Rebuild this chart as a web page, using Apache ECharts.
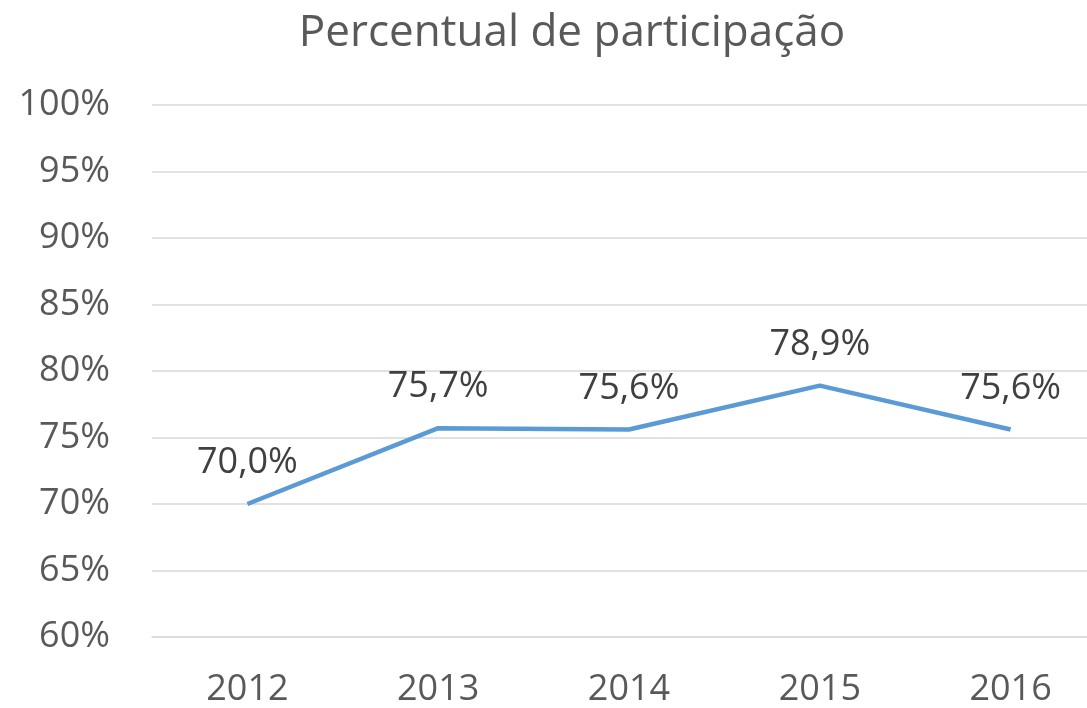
<!DOCTYPE html>
<html>
<head>
<meta charset="utf-8">
<script src="https://cdn.jsdelivr.net/npm/echarts@6/dist/echarts.min.js"></script>
<style>
  html, body { margin: 0; padding: 0; background: #fff; overflow: hidden; }
  /* plot runs past the right edge of the picture, as in the original */
  #chart { width: 1106px; height: 708px; }
</style>
</head>
<body>
<div id="chart"></div>
<script>
var titleText = 'Percentual de participação';
var years = ['2012', '2013', '2014', '2015', '2016'];
var participacao = [70.0, 75.7, 75.6, 78.9, 75.6];
var yMin = 60, yMax = 100, yStep = 5;

var chart = echarts.init(document.getElementById('chart'));
var fontName = '"Open Sans", "Liberation Sans", sans-serif';

chart.setOption({
  animation: false,
  title: {
    text: titleText,
    left: 567,
    textAlign: 'center',
    top: 6,
    textStyle: { fontFamily: fontName, fontSize: 44, fontWeight: 'normal', color: '#595959' }
  },
  grid: { left: 152, top: 105, right: 0, bottom: 69 },
  xAxis: {
    type: 'category',
    data: years,
    axisLine: { lineStyle: { color: '#d9d9d9', width: 1.5 } },
    axisTick: { show: false },
    axisLabel: { margin: 35, fontFamily: fontName, fontSize: 36, color: '#595959' }
  },
  yAxis: {
    type: 'value',
    min: yMin,
    max: yMax,
    interval: yStep,
    axisLine: { show: false },
    axisTick: { show: false },
    splitLine: { lineStyle: { color: '#d9d9d9', width: 1.5 } },
    axisLabel: { formatter: '{value}%', margin: 42, fontFamily: fontName, fontSize: 36, color: '#595959' }
  },
  series: [{
    type: 'line',
    data: participacao,
    symbol: 'circle',
    symbolSize: 2,
    showSymbol: true,
    itemStyle: { color: 'rgba(91,155,213,0)', borderWidth: 0 },
    lineStyle: { color: '#5b9bd5', width: 4.5 },
    label: {
      show: true,
      position: 'top',
      distance: 22,
      fontFamily: fontName,
      fontSize: 36,
      color: '#404040',
      formatter: function (p) { return p.value.toFixed(1).replace('.', ',') + '%'; }
    }
  }]
});
</script>
</body>
</html>
